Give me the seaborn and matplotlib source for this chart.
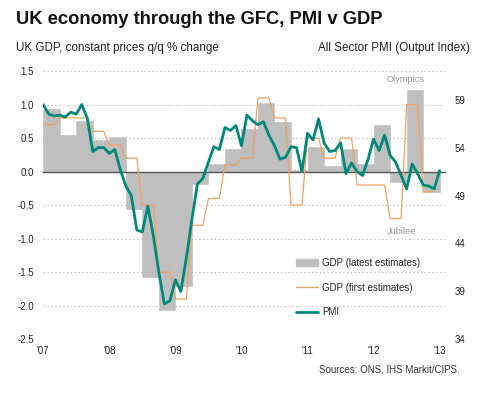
import numpy as np
import pandas as pd
import seaborn as sns
import matplotlib.pyplot as plt
from matplotlib.patches import Patch
from matplotlib.lines import Line2D
from matplotlib.ticker import FormatStrFormatter

# quarterly UK GDP q/q %, Q1 2007 - Q4 2012
gdp_latest = [0.93, 0.55, 0.76, 0.47,
              0.52, -0.56, -1.57, -2.06,
              -1.70, -0.18, 0.11, 0.33,
              0.63, 1.02, 0.74, 0.03,
              0.36, 0.09, 0.34, 0.12,
              0.69, -0.15, 1.22, -0.30]
gdp_first = [0.7, 0.8, 0.8, 0.6,
             0.4, 0.2, -0.5, -1.5,
             -1.9, -0.8, -0.4, 0.1,
             0.2, 1.1, 0.8, -0.5,
             0.5, 0.2, 0.5, -0.2,
             -0.2, -0.7, 1.0, -0.3]
# monthly all sector PMI, Jan 2007 - Jan 2013
pmi = [58.5, 57.5, 57.3, 57.4, 57.2, 57.7, 57.5, 58.5, 57.1, 53.6, 54.0, 54.0,
       53.4, 53.8, 51.7, 50.0, 49.0, 45.4, 45.2, 47.9, 44.8, 41.0, 37.7, 38.0,
       40.2, 39.0, 42.5, 46.5, 50.2, 50.8, 52.5, 54.1, 53.8, 56.1, 55.8, 56.3,
       54.2, 57.4, 56.8, 56.4, 56.7, 55.3, 54.2, 52.8, 53.0, 54.1, 54.0, 51.5,
       55.5, 54.8, 57.0, 54.5, 53.6, 53.7, 54.5, 51.3, 52.4, 51.5, 51.1, 52.8,
       54.9, 53.7, 55.3, 53.2, 52.5, 51.1, 49.7, 52.3, 51.3, 50.1, 50.0, 49.7,
       51.6]
years = list(range(2007, 2014))
year_labels = ["'07", "'08", "'09", "'10", "'11", "'12", "'13"]

GREY = '#bfbfbf'
ORANGE = '#f3a15f'
TEAL = '#00897b'

q_df = pd.DataFrame({'t': 2007 + np.arange(len(gdp_latest)) / 4, 'gdp': gdp_latest})
m_df = pd.DataFrame({'t': 2007 + np.arange(len(gdp_first) * 3) / 12,
                     'gdp_first': np.repeat(gdp_first, 3)})
p_df = pd.DataFrame({'t': 2007 + np.arange(len(pmi)) / 12, 'pmi': pmi})

sns.set_style('white')
plt.rcParams['font.family'] = ['Liberation Sans', 'DejaVu Sans']
plt.rcParams['axes.unicode_minus'] = False

fig = plt.figure(figsize=(4.8, 3.96), dpi=100)
ax = fig.add_axes([0.090, 0.1432, 0.837, 0.6775])

ax.bar(q_df['t'], q_df['gdp'], width=0.25, align='edge', color=GREY,
       edgecolor=GREY, linewidth=0.4, zorder=1)
sns.lineplot(data=m_df, x='t', y='gdp_first', ax=ax, color=ORANGE, lw=0.9, zorder=3)

ax.set_xlim(2007, 2013.08)
ax.set_ylim(-2.5, 1.5)
ax.set_yticks(np.arange(-2.5, 1.51, 0.5))
ax.yaxis.set_major_formatter(FormatStrFormatter('%.1f'))
ax.set_xticks(years)
ax.grid(axis='y', ls=(0, (1.5, 2)), color='#c8c8c8', lw=0.8)
ax.grid(axis='x', visible=False)
for s in ['top', 'left', 'right']:
    ax.spines[s].set_visible(False)
ax.spines['bottom'].set_position(('data', 0))
ax.spines['bottom'].set_color('#555555')
ax.spines['bottom'].set_linewidth(1)
ax.tick_params(axis='x', direction='out', length=3, width=0.8, color='#555555',
               labelbottom=False)
ax.tick_params(axis='y', length=0, pad=6.5, labelsize=7, labelcolor='#222222')
ax.set_xlabel('')
ax.set_ylabel('')

secax = ax.secondary_xaxis('bottom')
secax.set_xticks(years, labels=year_labels)
secax.tick_params(length=0, pad=5, labelsize=7, labelcolor='#222222')
secax.spines['bottom'].set_visible(False)

ax2 = ax.twinx()
sns.lineplot(data=p_df, x='t', y='pmi', ax=ax2, color=TEAL, lw=2)
ax2.set_ylim(34, 62)
ax2.set_yticks([34, 39, 44, 49, 54, 59])
ax2.grid(False)
for s in ax2.spines.values():
    s.set_visible(False)
ax2.tick_params(axis='y', length=0, pad=7, labelsize=7, labelcolor='#222222')
ax2.set_ylabel('')
ax2.set_xlabel('')

ax.text(2012.48, 1.37, 'Olympics', ha='center', va='center', fontsize=6.7, color='#999999')
ax.text(2012.42, -0.9, 'Jubilee', ha='center', va='center', fontsize=6.7, color='#999999')

handles = [Patch(color=GREY), Line2D([], [], color=ORANGE, lw=0.9),
           Line2D([], [], color=TEAL, lw=2)]
labels = ['GDP (latest estimates)', 'GDP (first estimates)', 'PMI']
ax2.legend(handles, labels, loc='upper left', bbox_to_anchor=(296 / 480, 1 - 258 / 396),
           bbox_transform=fig.transFigure, frameon=False, fontsize=7, handlelength=2.3,
           handletextpad=0.35, labelspacing=1.5, borderpad=0, borderaxespad=0)

fig.text(16 / 480, 1 - 20 / 396, 'UK economy through the GFC, PMI v GDP',
         fontsize=13.2, weight='bold', va='center', color='#111111')
fig.text(16 / 480, 1 - 48 / 396, 'UK GDP, constant prices q/q % change',
         fontsize=8.4, va='center', color='#222222')
fig.text(470 / 480, 1 - 48 / 396, 'All Sector PMI (Output Index)',
         fontsize=8.4, va='center', ha='right', color='#222222')
fig.text(460 / 480, 1 - 370 / 396, 'Sources: ONS, IHS Markit/CIPS.',
         fontsize=7, va='center', ha='right', color='#333333')

fig.savefig('out.png', dpi=100)
